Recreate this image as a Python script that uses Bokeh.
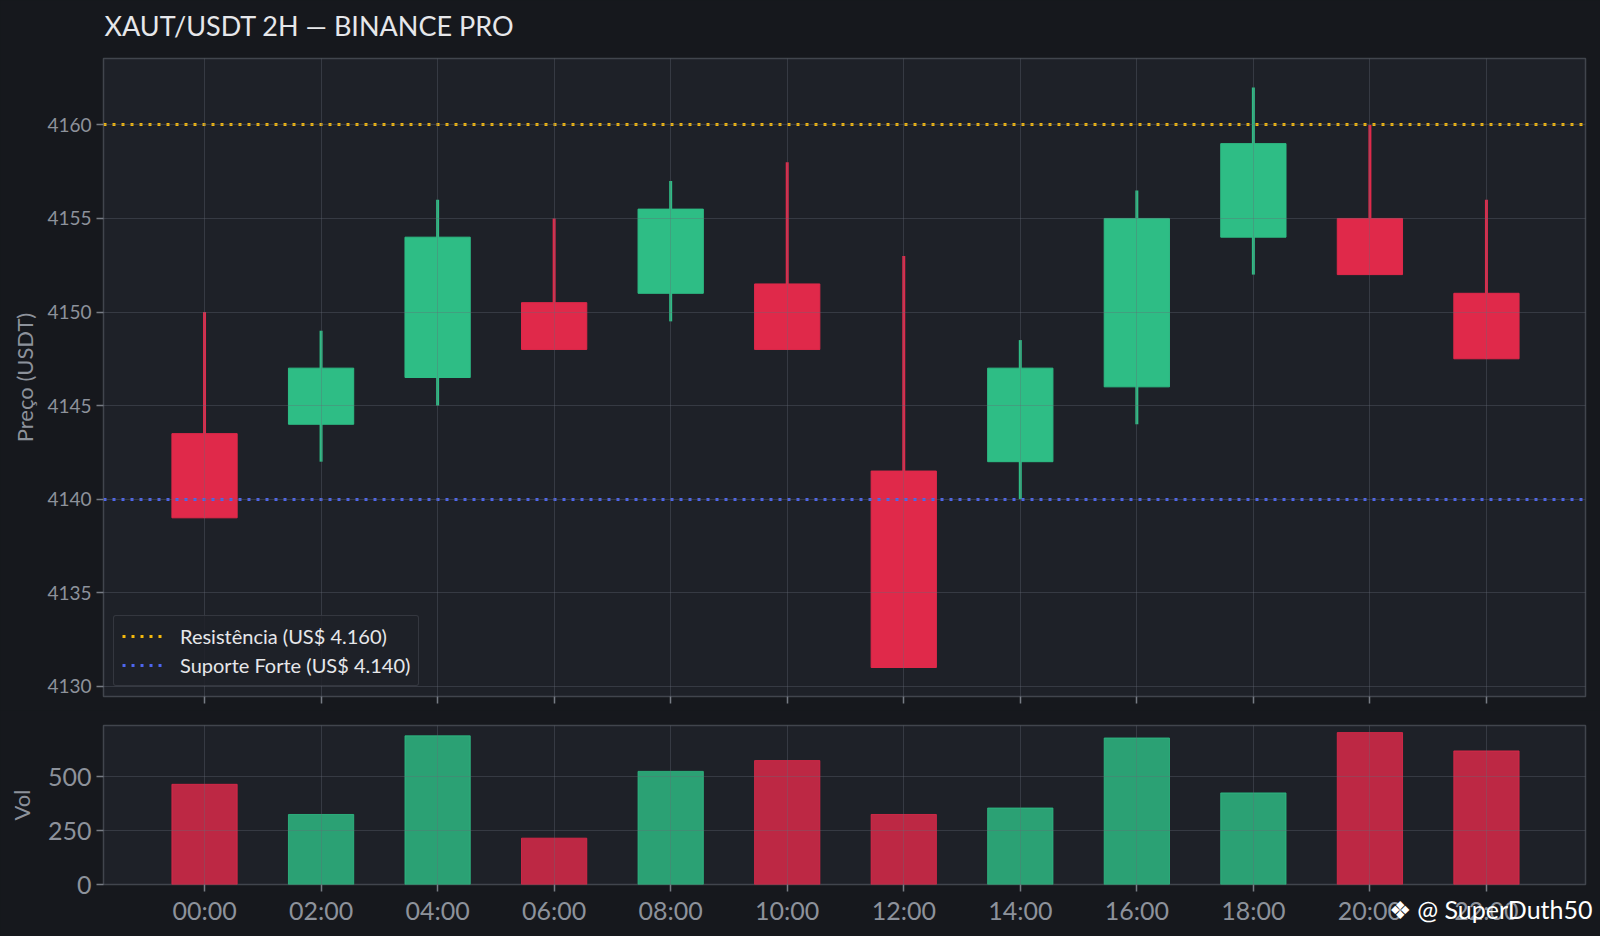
from bokeh.plotting import figure
from bokeh.layouts import column
from bokeh.models import Range1d, FixedTicker, Legend, Label
from bokeh.embed import file_html
from bokeh.resources import INLINE

# ---- data ----
times = ["00:00", "02:00", "04:00", "06:00", "08:00", "10:00",
         "12:00", "14:00", "16:00", "18:00", "20:00", "22:00"]
opens = [4143.5, 4144.0, 4146.5, 4150.5, 4151.0, 4151.5, 4141.5, 4142.0, 4146.0, 4154.0, 4155.0, 4151.0]
highs = [4150.0, 4149.0, 4156.0, 4155.0, 4157.0, 4158.0, 4153.0, 4148.5, 4156.5, 4162.0, 4160.0, 4156.0]
lows = [4139.0, 4142.0, 4145.0, 4148.0, 4149.5, 4148.0, 4131.0, 4140.0, 4144.0, 4152.0, 4152.0, 4147.5]
closes = [4139.0, 4147.0, 4154.0, 4148.0, 4155.5, 4148.0, 4131.0, 4147.0, 4155.0, 4159.0, 4152.0, 4147.5]
volumes = [465, 325, 690, 215, 525, 575, 325, 355, 680, 425, 705, 620]
resistance = 4160
support = 4140
price_ticks = [4130, 4135, 4140, 4145, 4150, 4155, 4160]
vol_ticks = [0, 250, 500]
title_text = "XAUT/USDT 2H \u2014 BINANCE PRO"
watermark_text = "\u2756 @ SuperDuth50"

FONT = "Lato"
BG = "#16181d"
PLOT_BG = "#1e2128"
GRID = "#646a75"
FRAME = "#41454d"
TICK_TXT = "#8d929b"
UP = "#2ebd85"
DOWN = "#e0294a"

xs = list(range(len(times)))
up = [c >= o for o, c in zip(opens, closes)]
colors = [UP if u else DOWN for u in up]
tops = [max(o, c) for o, c in zip(opens, closes)]
bots = [min(o, c) for o, c in zip(opens, closes)]


def style_axes(fig):
    for ax in [fig.xaxis, fig.yaxis]:
        ax.axis_line_color = None
        ax.major_tick_line_color = "#777c85"
        ax.major_tick_line_width = 1.5
        ax.major_tick_out = 7
        ax.major_tick_in = 0
        ax.minor_tick_line_color = None
        ax.major_label_text_color = TICK_TXT
        ax.major_label_text_font = FONT
        ax.axis_label_text_color = TICK_TXT
        ax.axis_label_text_font = FONT
        ax.axis_label_text_font_size = "22px"
        ax.axis_label_text_font_style = "normal"
    fig.xgrid.ticker = FixedTicker(ticks=xs)
    for g in [fig.xgrid, fig.ygrid]:
        g.grid_line_color = GRID
        g.grid_line_alpha = 0.35
        g.grid_line_width = 1
        g.level = "annotation"


# ---- price figure ----
p1 = figure(width=1600, height=710, x_range=Range1d(-0.867, 11.85),
            y_range=Range1d(4129.45, 4163.55), output_backend="svg",
            toolbar_location=None, min_border_left=103, min_border_right=15,
            min_border_top=58, min_border_bottom=14, title=None,
            background_fill_color=PLOT_BG, border_fill_color=BG)
p1.outline_line_color = FRAME
p1.outline_line_width = 1.5

title_lbl = Label(x=1, y=33, x_units="screen", y_units="screen", text=title_text,
                  text_align="left", text_baseline="middle", text_font=FONT,
                  text_font_size="27px", text_color="#e6e7ea")
p1.add_layout(title_lbl, "above")

p1.segment(x0=xs, y0=lows, x1=xs, y1=highs, line_color=colors, line_width=3)
p1.vbar(x=xs, width=0.56, top=tops, bottom=bots, fill_color=colors, line_color=colors, line_width=1)

r_res = p1.hspan(y=[resistance], line_color="#f5b90d", line_width=3, line_dash="3 6")
r_sup = p1.hspan(y=[support], line_color="#4d66f0", line_width=3, line_dash="3 6")
legend = Legend(items=[("Resist\u00eancia (US$ 4.160)", [r_res]),
                       ("Suporte Forte (US$ 4.140)", [r_sup])],
                location="bottom_left")
legend.label_text_font = FONT
legend.label_text_font_size = "20px"
legend.label_text_color = "#e6e7ea"
legend.background_fill_color = PLOT_BG
legend.background_fill_alpha = 0.85
legend.border_line_color = "#4a4e56"
legend.border_line_width = 1.5
legend.border_radius = 3
legend.glyph_width = 42
legend.glyph_height = 22
legend.label_standoff = 16
legend.padding = 8
legend.spacing = 5
legend.margin = 10
p1.add_layout(legend)

p1.yaxis.ticker = FixedTicker(ticks=price_ticks)
p1.yaxis.axis_label = "Pre\u00e7o (USDT)"
p1.xaxis.ticker = FixedTicker(ticks=xs)
p1.xaxis.major_label_overrides = {i: "" for i in xs}
style_axes(p1)
p1.xaxis.major_label_text_font_size = "1px"
p1.yaxis.major_label_text_font_size = "19px"
p1.yaxis.axis_label_standoff = 6

# ---- volume figure ----
p2 = figure(width=1600, height=257, x_range=p1.x_range,
            y_range=Range1d(0, 738), output_backend="svg",
            toolbar_location=None, min_border_left=103, min_border_right=15,
            min_border_top=15, min_border_bottom=83,
            background_fill_color=PLOT_BG, border_fill_color=BG)
p2.outline_line_color = FRAME
p2.outline_line_width = 1.5
p2.vbar(x=xs, width=0.56, top=volumes, bottom=0, fill_color=colors,
        line_color=colors, fill_alpha=0.82, line_alpha=0.82)

p2.yaxis.ticker = FixedTicker(ticks=vol_ticks)
p2.yaxis.axis_label = "Vol"
p2.xaxis.ticker = FixedTicker(ticks=xs)
p2.xaxis.major_label_overrides = {i: t for i, t in zip(xs, times)}
style_axes(p2)
p2.yaxis.major_label_text_font_size = "25px"
p2.xaxis.major_label_text_font_size = "25px"
p2.xaxis.major_label_standoff = 3
p2.yaxis.axis_label_standoff = 10

wm = Label(x=1489, y=49, x_units="screen", y_units="screen", text=watermark_text,
           text_align="right", text_baseline="middle", text_font=FONT,
           text_font_size="25px", text_color="#ffffff")
p2.add_layout(wm, "below")

layout = column(p1, p2, spacing=0)
html = file_html(layout, INLINE)
html = html.replace("<head>", "<head><style>html,body{margin:0;padding:0;background:%s;overflow:hidden}</style>" % BG, 1)
open("out.html", "w").write(html)
